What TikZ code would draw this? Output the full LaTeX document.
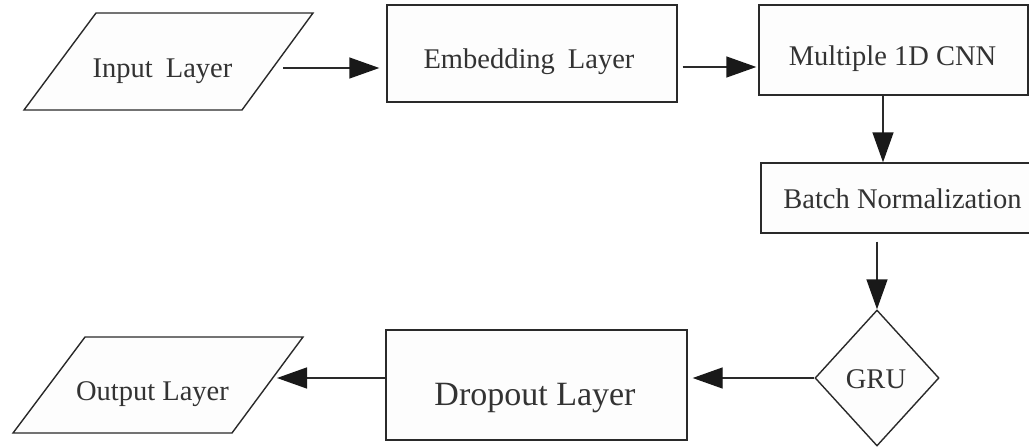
\documentclass[tikz,border=0pt]{standalone}
\usepackage{fontspec}
\setmainfont{Liberation Serif}
\usetikzlibrary{arrows.meta,shapes.geometric}
\definecolor{linec}{HTML}{2A2A2A}
\definecolor{textc}{HTML}{333333}
\definecolor{fillc}{HTML}{FDFDFD}
\begin{document}
\begin{tikzpicture}[x=1pt,y=-1pt,
  shp/.style={draw=linec, line width=1.4pt, fill=fillc},
  box/.style={shp, rectangle, inner sep=0pt},
  txt/.style={text=textc, font=\fontsize{28.5}{32}\selectfont, anchor=base, inner sep=0pt},
  arr/.style={draw=linec, line width=1.4pt, -{Triangle[length=30pt,width=21pt,color=black!90]}}]
\useasboundingbox[fill=white] (0,0) rectangle (1029,447);

% input parallelogram
\draw[shp] (96,13) -- (313,13) -- (242,110) -- (24,110) -- cycle;
\coordinate (inR) at (283,68);
\node[txt] (inT) at (162.5,77) {Input\hspace{13pt}Layer};

% boxes
\node[box, minimum width=290pt, minimum height=97pt] (emb) at (532,53.5) {};
\node[txt] (embT) at (529,68) {Embedding\hspace{13pt}Layer};

\node[box, minimum width=269pt, minimum height=90pt] (cnn) at (893.5,50) {};
\node[txt] (cnnT) at (892.5,65) {Multiple 1D CNN};

\node[box, minimum width=276pt, minimum height=70pt] (bn) at (899,198) {};
\node[txt] (bnT) at (902.5,208) {Batch Normalization};

\node[shp, diamond, minimum width=124pt, minimum height=136pt, inner sep=0pt] (gru) at (877,378) {};
\node[txt] (gruT) at (876,388) {GRU};

\node[box, minimum width=301pt, minimum height=110pt] (drop) at (536.5,385) {};
\node[txt, font=\fontsize{34}{38}\selectfont] (dropT) at (535,405) {Dropout Layer};

% output parallelogram
\draw[shp] (85,337) -- (303,337) -- (232,433) -- (13,433) -- cycle;
\coordinate (outR) at (277,378);
\node[txt] (outT) at (152.5,400) {Output Layer};

% connectors
\draw[arr, shorten >=7pt] (inR) -- (emb.west |- inR);
\draw[arr, shorten <=5pt, shorten >=2pt] (emb.east |- 0,67) -- (cnn.west |- 0,67);
\draw[arr] (883,0 |- cnn.south) -- (883,0 |- bn.north);
\draw[arr, shorten <=8pt] (877,0 |- bn.south) -- (gru.north);
\draw[arr, shorten >=5pt] (gru.west) -- (drop.east |- gru.west);
\draw[arr] (drop.west |- outR) -- (outR);
\end{tikzpicture}
\end{document}
